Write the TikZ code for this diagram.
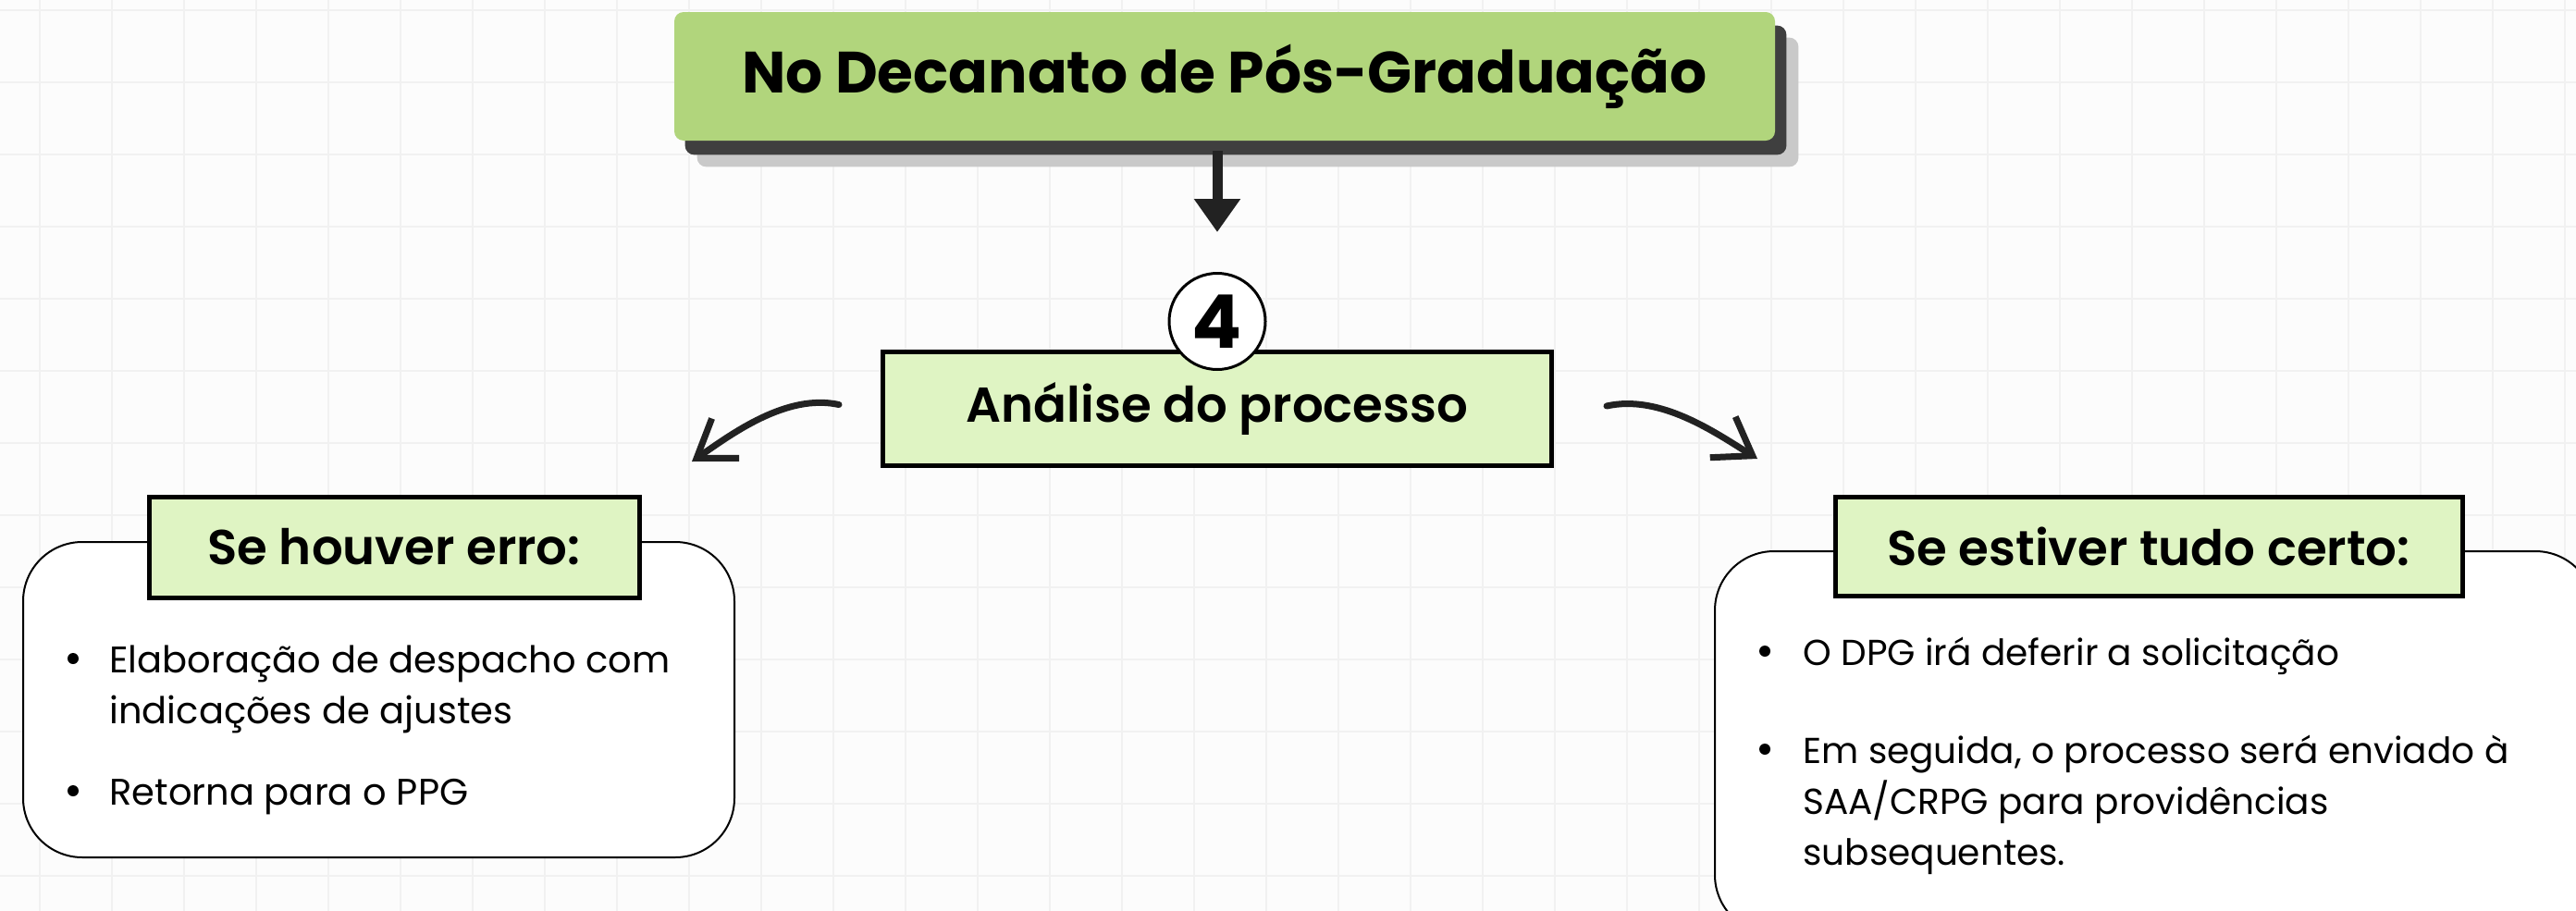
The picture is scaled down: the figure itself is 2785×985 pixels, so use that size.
\documentclass[tikz,border=0pt]{standalone}
\usepackage{fontspec}
\setmainfont{Poppins}
\newfontfamily\semib{Poppins SemiBold}
\usetikzlibrary{positioning,arrows.meta,backgrounds}

\definecolor{titlegreen}{HTML}{B1D57C}
\definecolor{palegreen}{HTML}{DFF4C3}
\definecolor{shadowdark}{HTML}{3F3F3F}
\definecolor{shadowlight}{HTML}{C9C9C9}
\definecolor{paper}{HTML}{FCFCFC}
\definecolor{gridline}{HTML}{F1F1F1}
\definecolor{ink}{HTML}{222222}

\tikzset{
  titlebox/.style={rectangle, rounded corners=5pt, fill=titlegreen, minimum width=595pt, minimum height=69.5pt, font=\fontsize{31.5}{36}\selectfont\bfseries},
  headbox/.style={rectangle, draw=black, line width=2.5pt, fill=palegreen, font=\fontsize{26.5}{30}\selectfont\semib},
  numcirc/.style={circle, draw=black, line width=1.5pt, fill=white, minimum size=52pt, inner sep=0pt, font=\fontsize{40}{44}\selectfont\bfseries},
  panel/.style={rectangle, rounded corners=32pt, draw=black, line width=1pt, fill=white},
  itemtext/.style={anchor=base west, align=left, inner sep=0pt, font=\fontsize{19.5}{27.5}\selectfont},
  bigitem/.style={itemtext, font=\fontsize{20}{27.5}\selectfont},
  bulletmark/.style={circle, fill=black, minimum size=6pt, inner sep=0pt},
  sketchy/.style={ink, line width=3.5pt, line cap=round, -{Straight Barb[length=19pt,width=26pt]}}
}

\begin{document}
\begin{tikzpicture}[x=0.5pt,y=-0.5pt]
  \useasboundingbox (0,0) rectangle (2785,985);

  % nodes
  \node [titlebox] (title) at (1324,82.5) {No Decanato de Pós-Graduação};
  \node [headbox, minimum width=361.5pt, minimum height=61.5pt] (proc) at (1316,441.5) {Análise do processo};
  \node [numcirc] (num) at ([shift={(0,-30)}]proc.north) {4};

  \node [panel, minimum width=384.5pt, minimum height=170.5pt] (errpanel) at (409.5,756.5) {};
  \node [headbox, minimum width=265pt, minimum height=54.5pt] (errhead) at (426,591.5) {Se houver erro:};
  \node [panel, minimum width=475.5pt, minimum height=207pt] (okpanel) at (2329.5,803) {};
  \node [headbox, minimum width=339pt, minimum height=53.5pt] (okhead) at (2323,590.5) {Se estiver tudo certo:};

  % itens (base = last line)
  \node [bulletmark] (errdot1) at (79,712) {};
  \node [bigitem] (erritem1) at (118,782) {Elaboração de despacho com\\indicações de ajustes};
  \node [bulletmark] (errdot2) at (79,855) {};
  \node [bigitem] (erritem2) at (118,870) {Retorna para o PPG};

  \node [bulletmark] (okdot1) at (1908,704) {};
  \node [itemtext] (okitem1) at (1949,719) {O DPG irá deferir a solicitação};
  \node [bulletmark] (okdot2) at (1908,810) {};
  \node [itemtext] (okitem2) at (1949,935) {Em seguida, o processo será enviado à\\SAA/CRPG para providências\\subsequentes.};

  % setas
  \draw [ink, line width=5.5pt, -{Triangle[length=18pt,width=24pt]}, shorten <=5.5pt, shorten >=21.5pt] (title.south -| num.north) -- (num.north);
  \coordinate (errtip) at (748,499);
  \coordinate (oktip) at (1900,496);
  \draw [sketchy] ([shift={(-45,-4)}]proc.west) .. controls (850,425) and (790,470) .. (errtip);
  \draw [sketchy] ([shift={(57,-2.5)}]proc.east) .. controls (1795,426) and (1855,468) .. (oktip);

  \begin{scope}[on background layer]
    \fill [paper] (0,0) rectangle (2785,985);
    \foreach \gx in {43,121,...,2785} \draw [gridline, line width=1pt] (\gx,0) -- (\gx,985);
    \foreach \gy in {11,89,...,985} \draw [gridline, line width=1pt] (0,\gy) -- (2785,\gy);
    \fill [shadowlight, rounded corners=5pt] ([shift={(25,28)}]title.south west) rectangle ([shift={(25,28)}]title.north east);
    \fill [shadowdark, rounded corners=5pt] ([shift={(12,15)}]title.south west) rectangle ([shift={(12,15)}]title.north east);
  \end{scope}
\end{tikzpicture}
\end{document}
